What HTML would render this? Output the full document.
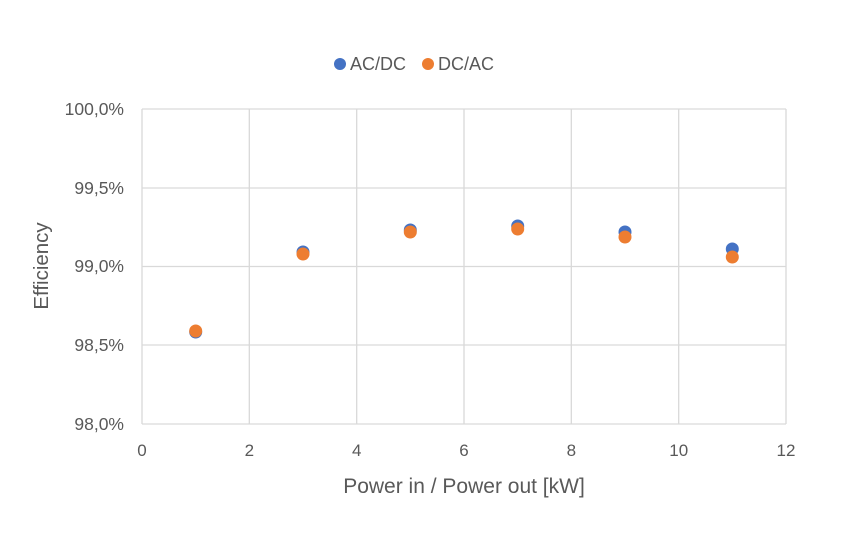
<!DOCTYPE html>
<html><head><style>body{margin:0;background:#fff}</style></head><body>
<svg width="856" height="542" xmlns="http://www.w3.org/2000/svg" font-family="Liberation Sans, sans-serif">
<rect width="856" height="542" fill="#fff"/>
<g stroke="#d9d9d9" stroke-width="1.3" fill="none">
<line x1="142" y1="109" x2="786" y2="109"/>
<line x1="142" y1="188" x2="786" y2="188"/>
<line x1="142" y1="266.5" x2="786" y2="266.5"/>
<line x1="142" y1="345" x2="786" y2="345"/>
<line x1="142" y1="424" x2="786" y2="424"/>
<line x1="142" y1="109" x2="142" y2="424"/>
<line x1="249.3" y1="109" x2="249.3" y2="424"/>
<line x1="356.7" y1="109" x2="356.7" y2="424"/>
<line x1="464" y1="109" x2="464" y2="424"/>
<line x1="571.3" y1="109" x2="571.3" y2="424"/>
<line x1="678.7" y1="109" x2="678.7" y2="424"/>
<line x1="786" y1="109" x2="786" y2="424"/>
</g>
<g font-size="17.5" fill="#595959" text-anchor="end">
<text x="124" y="115">100,0%</text>
<text x="124" y="194">99,5%</text>
<text x="124" y="272">99,0%</text>
<text x="124" y="351">98,5%</text>
<text x="124" y="430">98,0%</text>
</g>
<g font-size="17" fill="#595959" text-anchor="middle">
<text x="142" y="456">0</text>
<text x="249.3" y="456">2</text>
<text x="356.7" y="456">4</text>
<text x="464" y="456">6</text>
<text x="571.3" y="456">8</text>
<text x="678.7" y="456">10</text>
<text x="786" y="456">12</text>
</g>
<text x="464" y="493" font-size="21" fill="#595959" text-anchor="middle">Power in / Power out [kW]</text>
<text transform="translate(48,266) rotate(-90)" font-size="20.5" fill="#595959" text-anchor="middle">Efficiency</text>
<circle cx="340" cy="64" r="6" fill="#4472C4"/>
<text x="350" y="70" font-size="18" fill="#595959">AC/DC</text>
<circle cx="428" cy="64" r="6" fill="#ED7D31"/>
<text x="438" y="70" font-size="18" fill="#595959">DC/AC</text>
<g fill="#4472C4">
<circle cx="195.7" cy="332" r="6.5"/>
<circle cx="303" cy="252" r="6.5"/>
<circle cx="410.3" cy="230" r="6.5"/>
<circle cx="517.7" cy="226" r="6.5"/>
<circle cx="625" cy="232" r="6.5"/>
<circle cx="732.3" cy="249" r="6.5"/>
</g>
<g fill="#ED7D31">
<circle cx="195.7" cy="331" r="6.5"/>
<circle cx="303" cy="254" r="6.5"/>
<circle cx="410.3" cy="232" r="6.5"/>
<circle cx="517.7" cy="229" r="6.5"/>
<circle cx="625" cy="237" r="6.5"/>
<circle cx="732.3" cy="257" r="6.5"/>
</g>
</svg>
</body></html>
